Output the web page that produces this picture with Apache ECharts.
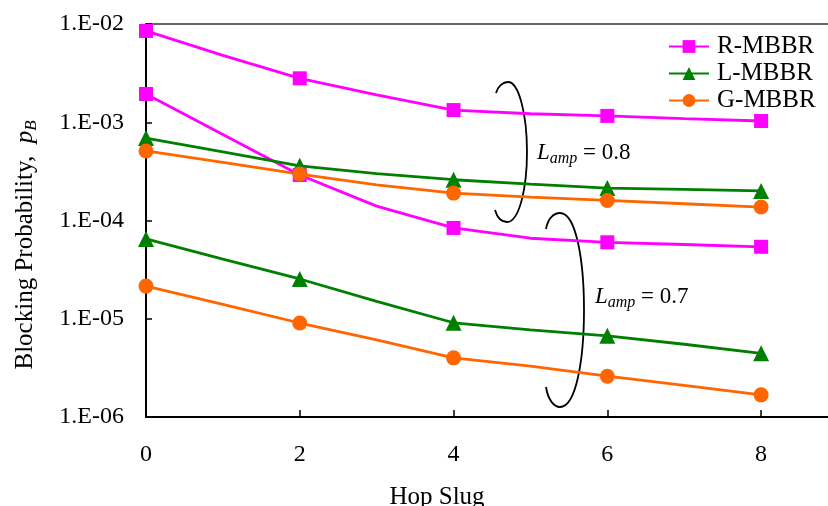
<!DOCTYPE html>
<html>
<head>
<meta charset="utf-8">
<script src="https://cdn.jsdelivr.net/npm/echarts@6/dist/echarts.min.js"></script>
<style>
html,body{margin:0;padding:0;background:#fff;}
#c{width:828px;height:506px;}
</style>
</head>
<body>
<div id="c"></div>
<script>
// Hop slug values (markers only on even ones)
const hopSlug = [0, 1, 2, 3, 4, 5, 6, 7, 8];
const markerHops = [0, 2, 4, 6, 8];
// Lamp = 0.8
const rMBBR_08 = [8.5e-3, 4.8e-3, 2.8e-3, 1.9e-3, 1.33e-3, 1.22e-3, 1.16e-3, 1.09e-3, 1.03e-3];
const lMBBR_08 = [6.9e-4, 5.0e-4, 3.6e-4, 3.0e-4, 2.6e-4, 2.35e-4, 2.14e-4, 2.07e-4, 2.0e-4];
const gMBBR_08 = [5.1e-4, 3.9e-4, 2.97e-4, 2.3e-4, 1.9e-4, 1.73e-4, 1.6e-4, 1.48e-4, 1.37e-4];
// Lamp = 0.7
const rMBBR_07 = [1.94e-3, 7.5e-4, 2.9e-4, 1.4e-4, 8.4e-5, 6.6e-5, 6.0e-5, 5.7e-5, 5.4e-5];
const lMBBR_07 = [6.5e-5, 4.05e-5, 2.54e-5, 1.5e-5, 9.1e-6, 7.7e-6, 6.7e-6, 5.5e-6, 4.45e-6];
const gMBBR_07 = [2.15e-5, 1.4e-5, 9.05e-6, 6.1e-6, 4.0e-6, 3.3e-6, 2.6e-6, 2.1e-6, 1.68e-6];
const xTicks = [0, 2, 4, 6, 8];
const yTickExponents = [-6, -5, -4, -3, -2];
const seriesNames = ['R-MBBR', 'L-MBBR', 'G-MBBR'];

const FONT = '"Liberation Serif", "Times New Roman", serif';
const colors = {'R-MBBR': '#FF00FF', 'L-MBBR': '#008000', 'G-MBBR': '#FF6600'};
const symbols = {'R-MBBR': 'rect', 'L-MBBR': 'triangle', 'G-MBBR': 'circle'};
const symSizes = {'R-MBBR': 14, 'L-MBBR': 16, 'G-MBBR': 15};

function buildData(vals) {
  return hopSlug.map((x, i) => {
    const d = {value: [x, vals[i]]};
    if (markerHops.indexOf(x) < 0) d.symbol = 'none';
    return d;
  });
}
function mkSeries(name, vals) {
  return {
    name: name, type: 'line', data: buildData(vals),
    symbol: symbols[name], symbolSize: symSizes[name], showAllSymbol: true,
    smooth: false,
    lineStyle: {color: colors[name], width: 2.8},
    itemStyle: {color: colors[name]},
    z: 3
  };
}
// bracket-like ellipse drawn as 4 cubic bezier segments
function bracket(segs) {
  return segs.map(s => ({
    type: 'bezierCurve',
    shape: {x1: s[0], y1: s[1], cpx1: s[2], cpy1: s[3], cpx2: s[4], cpy2: s[5], x2: s[6], y2: s[7]},
    style: {fill: null, stroke: '#000', lineWidth: 1.8}
  }));
}
const bracket08 = [
  [496, 93, 498, 86, 503, 82, 508, 82],
  [508, 82, 519, 82, 527, 115, 527, 152],
  [527, 152, 527, 189, 519, 222, 507, 222],
  [507, 222, 501, 222, 497, 217, 495, 210]
];
const bracket07 = [
  [546, 229, 548, 218, 554, 213, 560, 213],
  [560, 213, 576, 213, 584, 260, 584, 310],
  [584, 310, 584, 360, 576, 407, 560, 407],
  [560, 407, 554, 407, 548, 400, 546, 387]
];

function lampText(x, y, val) {
  return {type: 'text', x: x, y: y,
    style: {text: '{i|L}{s|amp}{n| = ' + val + '}', align: 'left', verticalAlign: 'middle',
      rich: {
        i: {fontFamily: FONT, fontSize: 23, fontStyle: 'italic', lineHeight: 28, fill: '#000'},
        s: {fontFamily: FONT, fontSize: 16, fontStyle: 'italic', lineHeight: 16, verticalAlign: 'bottom', fill: '#000'},
        n: {fontFamily: FONT, fontSize: 23, lineHeight: 28, fill: '#000'}
      }}};
}

const chart = echarts.init(document.getElementById('c'), null, {renderer: 'canvas'});
chart.setOption({
  animation: false,
  backgroundColor: '#fff',
  grid: {left: 146, right: 0, top: 24, bottom: 89, outerBoundsMode: 'none'},
  legend: {
    data: seriesNames, orient: 'vertical', left: 663, top: 29,
    itemWidth: 40, itemHeight: 16, itemGap: 2,
    textStyle: {fontFamily: FONT, fontSize: 25, color: '#000', lineHeight: 25, padding: [0, 0, 0, 3]}
  },
  xAxis: [{
    type: 'value', min: 0, max: 8.87, interval: 2,
    axisLine: {lineStyle: {color: '#000', width: 2}},
    axisTick: {inside: true, length: 7, lineStyle: {color: '#000', width: 1.5}},
    axisLabel: {fontFamily: FONT, fontSize: 24, color: '#000', margin: 26, showMaxLabel: false,
      formatter: v => (xTicks.indexOf(v) >= 0 ? String(v) : '')},
    splitLine: {show: false}
  }, {
    type: 'value', position: 'top', min: 0, max: 8.87,
    axisLine: {show: true, lineStyle: {color: '#333', width: 1.5}},
    axisTick: {show: false}, axisLabel: {show: false}, splitLine: {show: false}
  }],
  yAxis: {
    type: 'log', logBase: 10, min: Math.pow(10, yTickExponents[0]), max: Math.pow(10, yTickExponents[yTickExponents.length - 1]),
    axisLine: {lineStyle: {color: '#000', width: 2}},
    axisTick: {inside: true, length: 6, lineStyle: {color: '#000', width: 1.5}},
    axisLabel: {fontFamily: FONT, fontSize: 24, color: '#000', margin: 22,
      formatter: v => {
        const e = Math.round(Math.log10(v));
        const a = Math.abs(e);
        return '1.E' + (e < 0 ? '-' : '+') + (a < 10 ? '0' + a : a);
      }},
    splitLine: {show: false}
  },
  series: [
    mkSeries('R-MBBR', rMBBR_08),
    mkSeries('R-MBBR', rMBBR_07),
    mkSeries('L-MBBR', lMBBR_08),
    mkSeries('L-MBBR', lMBBR_07),
    mkSeries('G-MBBR', gMBBR_08),
    mkSeries('G-MBBR', gMBBR_07)
  ],
  graphic: [
    {type: 'text', x: 25, y: 245, rotation: Math.PI / 2,
      style: {text: '{n|Blocking Probability,  }{i|p}{s|B}', align: 'center', verticalAlign: 'middle',
        rich: {
          n: {fontFamily: FONT, fontSize: 25, lineHeight: 30, fill: '#000'},
          i: {fontFamily: FONT, fontSize: 25, fontStyle: 'italic', lineHeight: 30, fill: '#000'},
          s: {fontFamily: FONT, fontSize: 17, fontStyle: 'italic', lineHeight: 17, verticalAlign: 'bottom', fill: '#000'}
        }}},
    {type: 'text', x: 437, y: 497,
      style: {text: 'Hop Slug', fontFamily: FONT, fontSize: 25, fill: '#000', align: 'center', verticalAlign: 'middle'}}
  ].concat(bracket(bracket08), bracket(bracket07), [lampText(537, 153, '0.8'), lampText(595, 297, '0.7')])
});
</script>
</body>
</html>
